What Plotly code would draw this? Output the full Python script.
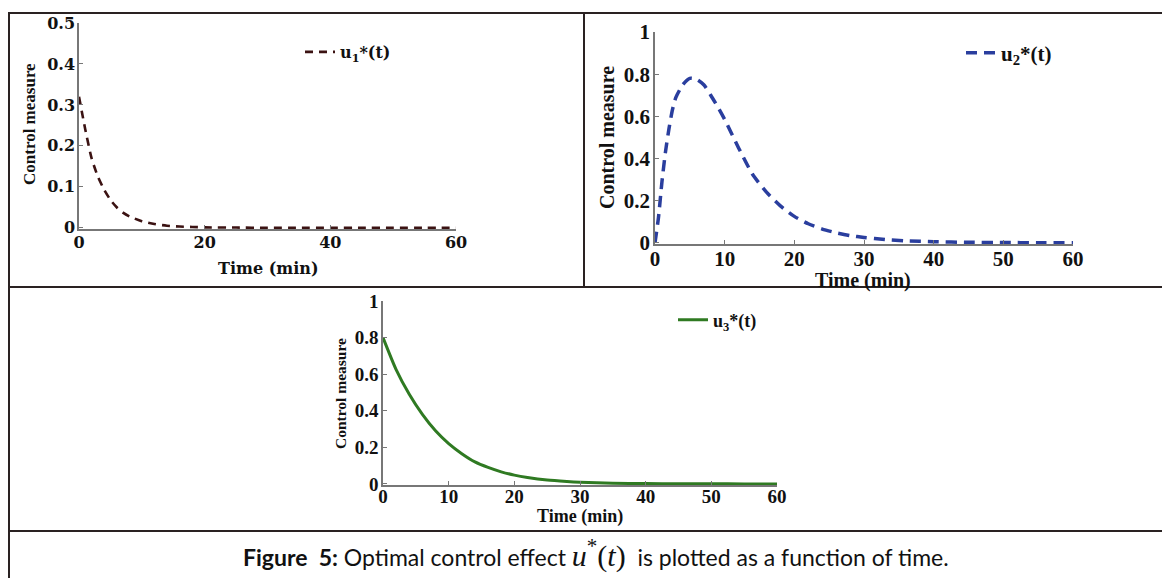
import plotly.graph_objects as go

# ---------------- data ----------------
t1 = [0, 1, 2, 3, 4, 5, 6, 7, 8, 10, 12, 14, 16, 18, 20, 25, 30, 35, 40, 45, 50, 55, 60]
u1 = [0.32, 0.24, 0.17, 0.125, 0.093, 0.068, 0.05, 0.037, 0.028, 0.016, 0.009, 0.005,
      0.003, 0.002, 0.001, 0.0005, 0, 0, 0, 0, 0, 0, 0]

t2 = [0, 0.5, 1, 1.5, 2, 2.5, 3, 4, 5, 6, 7, 8, 9, 10, 12, 14, 16, 18, 20, 22, 24, 26,
      28, 30, 33, 36, 40, 45, 50, 55, 60]
u2 = [0, 0.12, 0.29, 0.43, 0.54, 0.63, 0.69, 0.75, 0.78, 0.775, 0.75, 0.70, 0.645, 0.585,
      0.45, 0.325, 0.24, 0.175, 0.125, 0.09, 0.065, 0.047, 0.034, 0.025, 0.015, 0.009,
      0.005, 0.002, 0.001, 0, 0]

t3 = [0, 2, 4, 6, 8, 10, 12, 14, 16, 18, 20, 22, 25, 28, 30, 35, 40, 45, 50, 55, 60]
u3 = [0.80, 0.625, 0.49, 0.38, 0.29, 0.22, 0.165, 0.12, 0.09, 0.066, 0.048, 0.035, 0.021,
      0.013, 0.009, 0.004, 0.002, 0.001, 0.0005, 0, 0]

names = ["<b>u<sub>1</sub>*(t)</b>", "<b>u<sub>2</sub>*(t)</b>", "<b>u<sub>3</sub>*(t)</b>"]
x_title = "Time (min)"
y_title = "Control measure"
caption = ("<b>Figure  5:</b> Optimal control effect "
           "<span style='font-family:Liberation Serif;font-size:30px'><i>u</i><sup>*</sup>(<i>t</i>)</span>"
           "  is plotted as a function of time.")

W, H = 1170, 578
OX, OY = 8, 8   # page body margin in the browser


def px(x):
    return (x - OX) / W


def py(y):
    return 1 - (y - OY) / H


fig = go.Figure()

fig.add_trace(go.Scatter(x=t1, y=u1, mode="lines", name=names[0], legend="legend", showlegend=True,
                         line=dict(color="#3b1212", width=2.6, dash="8px,6px", shape="spline", smoothing=0.6),
                         xaxis="x", yaxis="y"))
fig.add_trace(go.Scatter(x=t2, y=u2, mode="lines", name=names[1], legend="legend2", showlegend=True,
                         line=dict(color="#2a3e9e", width=3.5, dash="11px,7px", shape="spline", smoothing=0.6),
                         xaxis="x2", yaxis="y2"))
fig.add_trace(go.Scatter(x=t3, y=u3, mode="lines", name=names[2], legend="legend3", showlegend=True,
                         line=dict(color="#2f7a22", width=3, shape="spline", smoothing=0.6),
                         xaxis="x3", yaxis="y3"))


def axis_common(size, family, standoff):
    return dict(showline=True, linecolor="#777777", linewidth=1.5, ticks="inside", ticklen=4,
                tickcolor="#777777", showgrid=False, zeroline=False, mirror=False, automargin=False,
                ticklabelstandoff=standoff,
                tickfont=dict(family=family, size=size, color="#111111", weight="bold"), fixedrange=True)


serif = "Liberation Serif"
wide = "DejaVu Serif"

fig.update_layout(
    width=W, height=H, margin=dict(l=0, r=0, t=0, b=0, pad=0, autoexpand=False),
    paper_bgcolor="white", plot_bgcolor="white", showlegend=True,
    xaxis=dict(domain=[px(79), px(456)], range=[0, 60], dtick=20, anchor="y",
               **axis_common(16, wide, -2)),
    yaxis=dict(domain=[py(229), py(23)], range=[-0.003, 0.5], dtick=0.1, anchor="x",
               **axis_common(16, wide, -1)),
    xaxis2=dict(domain=[px(655), px(1073)], range=[0, 60], dtick=10, anchor="y2",
                **axis_common(21, serif, -5)),
    yaxis2=dict(domain=[py(244), py(32)], range=[-0.006, 1], dtick=0.2, anchor="x2",
                **axis_common(21, serif, -1)),
    xaxis3=dict(domain=[px(383), px(777)], range=[0, 60], dtick=10, anchor="y3",
                **axis_common(19, serif, -7)),
    yaxis3=dict(domain=[py(485), py(301)], range=[-0.006, 1], dtick=0.2, anchor="x3",
                **axis_common(19, serif, -1)),
    legend=dict(x=px(300), y=py(52), xanchor="left", yanchor="middle", bgcolor="rgba(0,0,0,0)",
                font=dict(family=wide, size=16, color="#111"), itemwidth=30),
    legend2=dict(x=px(961), y=py(53), xanchor="left", yanchor="middle", bgcolor="rgba(0,0,0,0)",
                 font=dict(family=serif, size=21, color="#111"), itemwidth=30),
    legend3=dict(x=px(673), y=py(320), xanchor="left", yanchor="middle", bgcolor="rgba(0,0,0,0)",
                 font=dict(family=serif, size=18, color="#111"), itemwidth=30),
)

# axis titles and caption
ann = [
    dict(x=px(268), y=py(268), text="<b>" + x_title + "</b>", font=dict(family=wide, size=16, color="#111")),
    dict(x=px(30), y=py(124), text="<b>" + y_title + "</b>", textangle=-90,
         font=dict(family=serif, size=17, color="#111")),
    dict(x=px(863), y=py(280), text="<b>" + x_title + "</b>", font=dict(family=serif, size=20, color="#111")),
    dict(x=px(607), y=py(138), text="<b>" + y_title + "</b>", textangle=-90,
         font=dict(family=serif, size=20, color="#111")),
    dict(x=px(580), y=py(517), text="<b>" + x_title + "</b>", font=dict(family=serif, size=18, color="#111")),
    dict(x=px(340), y=py(394), text="<b>" + y_title + "</b>", textangle=-90,
         font=dict(family=serif, size=15.5, color="#111")),
    dict(x=px(596), y=py(553), text=caption, font=dict(family="Lato", size=23, color="#111")),
]
for a in ann:
    a.update(xref="paper", yref="paper", showarrow=False, xanchor="center", yanchor="middle")
fig.update_layout(annotations=ann)

# table borders
bc = "#2a2222"
shapes = [
    dict(x0=px(9), x1=px(9), y0=py(13), y1=py(586)),
    dict(x0=px(8), x1=px(1178), y0=py(13), y1=py(13)),
    dict(x0=px(584), x1=px(584), y0=py(13), y1=py(287)),
    dict(x0=px(8), x1=px(1178), y0=py(287), y1=py(287)),
    dict(x0=px(8), x1=px(1178), y0=py(531), y1=py(531)),
]
for s in shapes:
    s.update(type="line", xref="paper", yref="paper", line=dict(color=bc, width=2))
fig.update_layout(shapes=shapes)

fig.write_html("out.html")
